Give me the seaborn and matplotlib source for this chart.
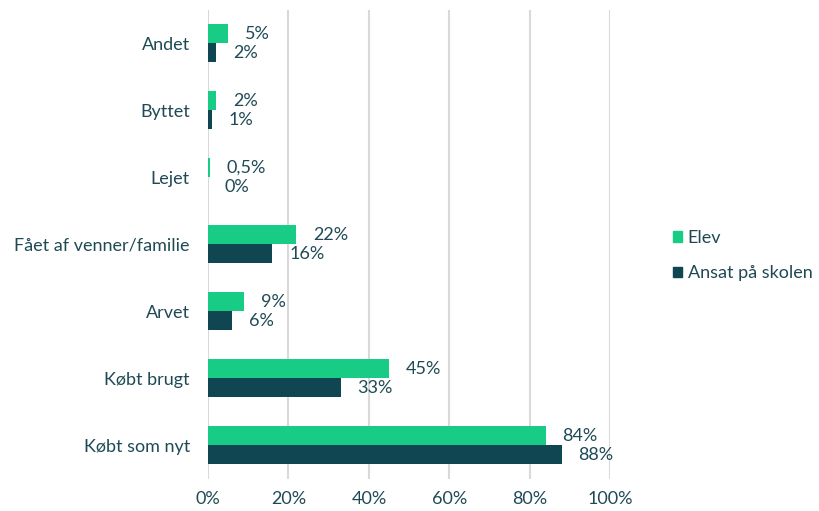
import matplotlib
matplotlib.use('Agg')
import matplotlib.pyplot as plt
import matplotlib.patches as mpatches
import seaborn as sns
import pandas as pd

categories = ['Andet', 'Byttet', 'Lejet', 'Fået af venner/familie', 'Arvet', 'Købt brugt', 'Købt som nyt']
elev = [5, 2, 0.5, 22, 9, 45, 84]
ansat = [2, 1, 0, 16, 6, 33, 88]
elev_labels = ['5%', '2%', '0,5%', '22%', '9%', '45%', '84%']
ansat_labels = ['2%', '1%', '0%', '16%', '6%', '33%', '88%']
groups = ['Elev', 'Ansat på skolen']
colors = ['#19CC85', '#0F4652']
txt = '#1F4A55'

df = pd.DataFrame({
    'kategori': categories * 2,
    'andel': elev + ansat,
    'gruppe': [groups[0]] * len(categories) + [groups[1]] * len(categories),
})

sns.set_style('white')
plt.rcParams['font.family'] = ['Lato', 'DejaVu Sans']
plt.rcParams['font.size'] = 13

fig = plt.figure(figsize=(8.19, 5.11), dpi=100)
ax = fig.add_axes([0.254, 0.063, 0.491, 0.918])

sns.barplot(data=df, y='kategori', x='andel', hue='gruppe', order=categories,
            hue_order=groups, palette=colors, orient='h', width=0.57,
            ax=ax, legend=False, saturation=1, edgecolor='none')

for cont, labs in zip(ax.containers, [elev_labels, ansat_labels]):
    ax.bar_label(cont, labels=labs, padding=12, color=txt, fontsize=13)

ax.set_xlim(0, 100)
ax.set_ylim(6.5, -0.5)
ax.set_xticks([0, 20, 40, 60, 80, 100])
ax.set_xticklabels(['0%', '20%', '40%', '60%', '80%', '100%'])
ax.xaxis.grid(True, color='#D9D9D9', linewidth=1.5)
ax.set_axisbelow(True)
ax.set_xlabel('')
ax.set_ylabel('')
for s in ax.spines.values():
    s.set_visible(False)
ax.tick_params(axis='both', colors=txt, labelsize=13, length=0)
ax.tick_params(axis='y', pad=13)
ax.tick_params(axis='x', pad=9)

handles = [mpatches.Patch(color=c, label=g) for c, g in zip(colors, groups)]
leg = fig.legend(handles=handles, loc='center left', bbox_to_anchor=(0.822, 0.50),
                 frameon=False, fontsize=13, handlelength=0.5, handleheight=0.55,
                 handletextpad=0.3, labelspacing=1.1, borderpad=0, borderaxespad=0)
for t in leg.get_texts():
    t.set_color(txt)

fig.savefig('out.png', dpi=100)
